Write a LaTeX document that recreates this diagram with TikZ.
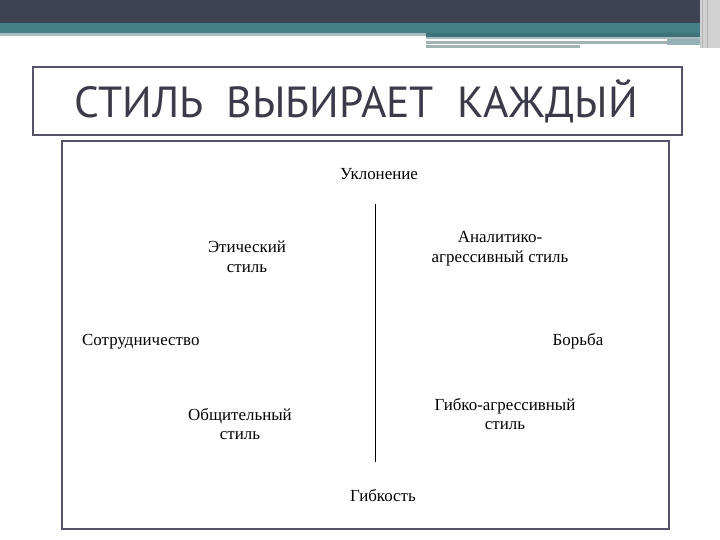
\documentclass[tikz,border=0pt]{standalone}
\usepackage{fontspec}
\setmainfont{Liberation Serif}
\newfontfamily\titlefont{PT Sans}
\definecolor{darkband}{HTML}{3E4353}
\definecolor{tealband}{HTML}{447F87}
\definecolor{lightline}{HTML}{A9BCC0}
\definecolor{grayline}{HTML}{A3B2B2}
\definecolor{boxline}{HTML}{54536A}
\definecolor{titletext}{HTML}{3B3A48}
\tikzset{
  lbl/.style={font=\fontsize{17}{20}\selectfont, align=center, inner sep=0pt, text=black},
  frame/.style={draw=boxline, line width=2bp},
}
\begin{document}
\begin{tikzpicture}[x=1bp,y=-1bp]
\useasboundingbox (0,0) rectangle (720,540);
\fill[white] (0,0) rectangle (720,540);
% header bands
\fill[darkband] (0,0) rectangle (720,23);
\fill[tealband] (0,23) rectangle (720,33);
\fill[lightline] (0,33) rectangle (426,36);
\fill[tealband!90!black] (426,33) rectangle (700,37);
\fill[lightline] (426,37) rectangle (700,39);
\fill[grayline] (426,41) rectangle (667,44);
\fill[lightline!80!tealband] (667,39) rectangle (700,45);
\fill[grayline] (426,45) rectangle (580,48);
\fill[gray!35] (700,0) rectangle (720,48);
\draw[gray!60, line width=1bp] (702,0) -- (702,48);
\draw[gray!60, line width=1bp] (707,0) -- (707,48);
% title box
\draw[frame] (33,67) rectangle (682,135);
\node[font=\titlefont\fontsize{43.7}{48}\selectfont, text=titletext, inner sep=0pt] (title) at (356,101) {СТИЛЬ\ \ ВЫБИРАЕТ\ \ КАЖДЫЙ};
% inner box
\draw[frame] (62,141) rectangle (669,529);
% axis
\coordinate (ltop) at (375,204);
\coordinate (lbot) at (375,462);
\draw[black, line width=1bp] (ltop) -- (lbot);
% labels
\node[lbl] (ukl) at (379,174) {Уклонение};
\node[lbl] (eth) at (247,257) {Этический\\стиль};
\node[lbl] (anal) at (500,249) {Аналитико-\\агрессивный стиль};
\node[lbl, anchor=base west] (sotr) at (82,345) {Сотрудничество};
\node[lbl, anchor=base] (borba) at (578,345) {Борьба};
\node[lbl] (obsh) at (240,424) {Общительный\\стиль};
\node[lbl] (gibag) at (505,414) {Гибко-агрессивный\\стиль};
\node[lbl] (gib) at (383,496) {Гибкость};
\end{tikzpicture}
\end{document}
